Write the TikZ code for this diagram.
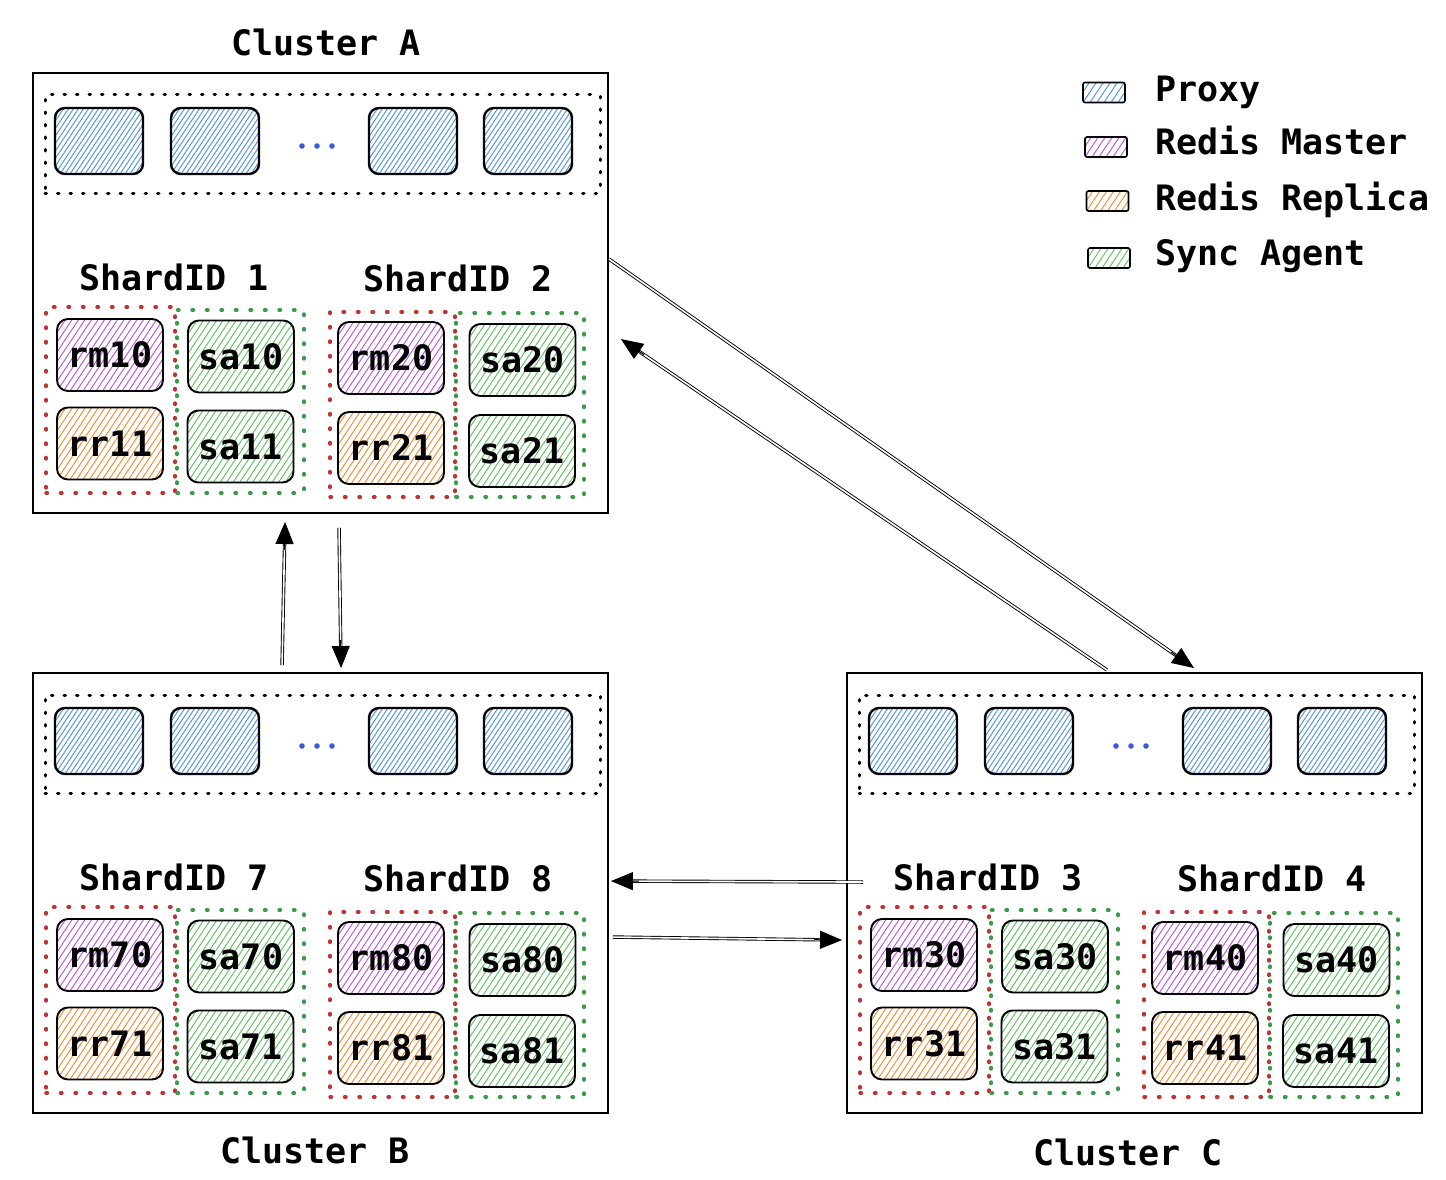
\documentclass[tikz,border=0pt]{standalone}
\usepackage{fontspec}
\newfontfamily\mono{DejaVu Sans Mono}
\usetikzlibrary{arrows.meta,calc}
\definecolor{pblue}{HTML}{4A8FE0}
\definecolor{mpurple}{HTML}{B74FDD}
\definecolor{rorange}{HTML}{F5882A}
\definecolor{sgreen}{HTML}{5DBE5D}
\definecolor{gred}{HTML}{C03333}
\definecolor{ggreen}{HTML}{3A9A4A}
\definecolor{dotc}{HTML}{3B5BDB}
\tikzset{
  hatch/.style 2 args={path picture={\foreach \k in {-40,...,40}{\draw[#1,line width=0.9pt] ([xshift=\k*#2pt]path picture bounding box.south west) -- ++(120pt,180pt);}}},
  cell/.style={draw=black, line width=1.9pt, rounded corners=11pt, minimum width=106pt, minimum height=72pt, inner sep=0pt, font=\mono\bfseries\fontsize{35}{35}\selectfont},
  rmbox/.style={cell, hatch={mpurple}{6.5}},
  rrbox/.style={cell, hatch={rorange}{6.5}},
  sabox/.style={cell, hatch={sgreen}{6.5}},
  proxy/.style={draw=black, line width=2.4pt, rounded corners=10pt, minimum width=88pt, minimum height=66pt, inner sep=0pt, hatch={pblue}{5}},
  cluster/.style={draw=black, line width=1.9pt, minimum width=575pt, minimum height=440pt, inner sep=0pt},
  pgrp/.style={draw=black, line width=3pt, dash pattern=on 1.5pt off 11pt, line cap=round, inner sep=0pt},
  redgrp/.style={draw=gred, line width=3.4pt, dash pattern=on 1.5pt off 13pt, line cap=round, inner sep=0pt},
  greengrp/.style={draw=ggreen, line width=3.4pt, dash pattern=on 1.5pt off 13pt, line cap=round, inner sep=0pt},
  lbl/.style={font=\mono\bfseries\fontsize{35}{35}\selectfont, anchor=base, inner sep=0pt},
  legbox/.style={draw=black, line width=1.6pt, rounded corners=2pt, minimum width=42pt, minimum height=20pt, inner sep=0pt},
  legtxt/.style={font=\mono\bfseries\fontsize{35}{35}\selectfont, anchor=base west, inner sep=0pt},
  dline/.style={draw=black, line width=0.9pt, double=white, double distance=1.6pt},
  tipline/.style={draw=black, line width=1pt, -{Triangle[length=22pt,width=18pt]}},
}
\newcommand\mkcluster[5]{%
  \begin{scope}[shift={(#2,#3)}]
    \node[cluster] (cl#1) at (320.5,293) {};
    \node[pgrp, minimum width=555pt, minimum height=98pt] (pg#1) at (322.5,144) {};
    \node[proxy] (p#1a) at (99,141) {};
    \node[proxy] (p#1b) at (215,141) {};
    \node[proxy] (p#1c) at (413,141) {};
    \node[proxy] (p#1d) at (528,141) {};
    \fill[dotc] (302,146) circle (2.8pt) (317,146) circle (2.8pt) (332,146) circle (2.8pt);
    \node[lbl] (sh#1a) at (174,290) {ShardID #4};
    \node[lbl] (sh#1b) at (458,291) {ShardID #5};
    \node[redgrp, minimum width=129pt, minimum height=186pt] (ra#1) at (110.5,400) {};
    \node[greengrp, minimum width=127pt, minimum height=183pt] (ga#1) at (240.5,401.5) {};
    \node[redgrp, minimum width=125pt, minimum height=185pt] (rb#1) at (392.5,404.5) {};
    \node[greengrp, minimum width=128pt, minimum height=184pt] (gb#1) at (520,405) {};
    \node[rmbox] (rm#40) at (110,355) {rm#40};
    \node[rrbox] (rr#41) at (110,443.5) {rr#41};
    \node[sabox] (sa#40) at (241,356.5) {sa#40};
    \node[sabox] (sa#41) at (240.5,446.5) {sa#41};
    \node[rmbox] (rm#50) at (391,358) {rm#50};
    \node[rrbox] (rr#51) at (391,448) {rr#51};
    \node[sabox] (sa#50) at (522.5,360) {sa#50};
    \node[sabox] (sa#51) at (522,451) {sa#51};
  \end{scope}}
\newcommand\conn[2]{%
  \draw[dline, shorten >=14pt] (#1) -- (#2);
  \draw[tipline] ($(#2)!28pt!(#1)$) -- (#2);}
\begin{document}
\begin{tikzpicture}[x=1pt,y=-1pt]
\useasboundingbox (0,0) rectangle (1446,1180);
\fill[white] (0,0) rectangle (1446,1180);
\mkcluster{A}{0}{0}{1}{2}
\mkcluster{B}{0}{600}{7}{8}
\mkcluster{C}{814}{600}{3}{4}
\node[lbl] (tA) at (326,56) {Cluster A};
\node[lbl] (tB) at (315,1163) {Cluster B};
\node[lbl] (tC) at (1128,1165) {Cluster C};
% legend
\node[legbox, hatch={pblue}{7}] (lg1) at (1104,92.5) {};
\node[legbox, hatch={mpurple}{7}] (lg2) at (1106,147) {};
\node[legbox, hatch={rorange}{7}] (lg3) at (1107.5,201) {};
\node[legbox, hatch={sgreen}{7}] (lg4) at (1109,258) {};
\node[legtxt] (lt1) at (1155,102) {Proxy};
\node[legtxt] (lt2) at (1155,155) {Redis Master};
\node[legtxt] (lt3) at (1155,210) {Redis Replica};
\node[legtxt] (lt4) at (1155,265) {Sync Agent};
% connector end points
\coordinate (a1s) at ([yshift=-187pt]clA.north east);
\coordinate (a1e) at ([xshift=348pt,yshift=4pt]clC.north west);
\coordinate (a2s) at ([xshift=261pt,yshift=2pt]clC.north west);
\coordinate (a2e) at ([xshift=12pt,yshift=-267pt]clA.north east);
\coordinate (a3s) at ([xshift=250pt,yshift=7pt]clB.north west);
\coordinate (a3e) at ([xshift=253pt,yshift=-8pt]clA.south west);
\coordinate (a4s) at ([xshift=307pt,yshift=-14pt]clA.south west);
\coordinate (a4e) at ([xshift=309pt,yshift=4pt]clB.north west);
\coordinate (a5s) at ([xshift=17pt,yshift=-210pt]clC.north west);
\coordinate (a5e) at ([xshift=2pt,yshift=-209pt]clB.north east);
\coordinate (a6s) at ([xshift=4pt,yshift=-265pt]clB.north east);
\coordinate (a6e) at ([xshift=-4pt,yshift=-268pt]clC.north west);
\conn{a1s}{a1e}
\conn{a2s}{a2e}
\conn{a3s}{a3e}
\conn{a4s}{a4e}
\conn{a5s}{a5e}
\conn{a6s}{a6e}
\end{tikzpicture}
\end{document}
